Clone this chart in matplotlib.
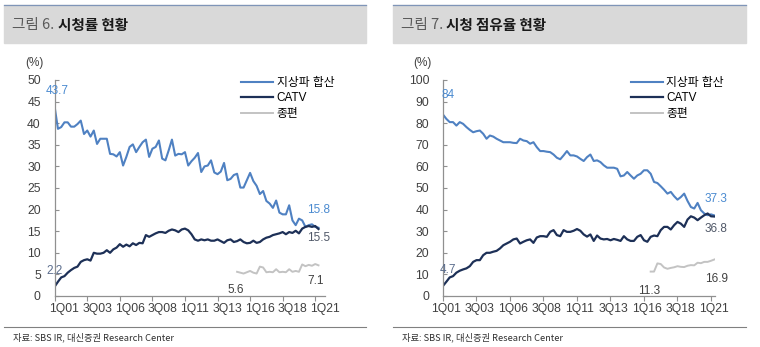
"""Broadcast ratings and viewing share by channel group, quarterly 1Q01-2Q21."""

import matplotlib.pyplot as plt
import numpy as np
from matplotlib.lines import Line2D
from matplotlib.patches import Rectangle

plt.rcParams["font.family"] = ["Liberation Sans", "Noto Sans CJK KR"]

# quarterly series, index 0 = 1Q01
tick_labels = ["1Q01", "3Q03", "1Q06", "3Q08", "1Q11", "3Q13", "1Q16", "3Q18", "1Q21"]
series_names = ["지상파 합산", "CATV", "종편"]

rating_terrestrial = [
    43.7, 38.7, 39.1, 40.2, 40.2, 39.2, 39.2, 39.8, 40.6, 37.5,
    38.3, 36.9, 38.3, 35.2, 36.4, 36.4, 36.4, 32.9, 32.8, 32.3,
    33.3, 30.2, 32.2, 34.5, 35.1, 33.3, 34.5, 35.6, 36.2, 32.2,
    34.1, 34.5, 36.0, 31.8, 31.4, 33.7, 36.2, 32.5, 32.9, 32.8,
    33.3, 30.2, 31.2, 32.0, 33.1, 28.7, 30.0, 30.2, 31.4, 28.6,
    28.2, 28.8, 30.8, 26.8, 27.1, 28.0, 28.3, 25.1, 25.1, 26.8,
    28.5, 26.6, 25.5, 23.6, 24.3, 22.0, 21.4, 20.4, 22.1, 19.3,
    18.9, 18.9, 21.0, 17.5, 16.4, 17.9, 17.5, 16.0, 16.4, 16.6,
    16.0, 15.8,
]
rating_catv = [
    2.2, 3.3, 4.3, 4.6, 5.4, 6.0, 6.5, 6.8, 7.9, 8.3,
    8.5, 8.2, 10.0, 9.8, 9.8, 10.0, 10.6, 10.0, 10.8, 11.2,
    12.0, 11.4, 11.9, 11.5, 12.2, 11.8, 12.3, 12.2, 14.1, 13.7,
    14.1, 14.5, 14.8, 14.8, 14.6, 15.1, 15.4, 15.2, 14.8, 15.4,
    15.6, 15.2, 14.3, 13.1, 12.8, 13.1, 12.9, 13.1, 12.8, 12.8,
    13.1, 12.7, 12.3, 12.9, 13.1, 12.5, 12.7, 13.1, 12.5, 12.2,
    12.3, 12.8, 12.3, 12.5, 13.1, 13.5, 13.7, 14.1, 14.3, 14.5,
    14.8, 14.3, 14.8, 14.6, 15.1, 14.5, 15.6, 16.0, 16.2, 16.0,
    16.2, 15.5,
]
rating_jongpyeon_start = 56
rating_jongpyeon = [
    5.6, 5.4, 5.2, 5.5, 5.8, 5.4, 5.2, 6.8, 6.6, 5.5,
    5.6, 5.5, 6.2, 5.5, 5.6, 5.5, 6.2, 5.6, 5.8, 5.6,
    7.3, 6.9, 7.2, 7.0, 7.4, 7.1,
]

share_terrestrial = [
    84.0, 82.0, 80.5, 80.5, 78.9, 80.5, 79.7, 78.2, 76.9, 75.8,
    76.3, 76.6, 75.1, 72.8, 74.3, 73.8, 72.8, 72.0, 71.2, 71.2,
    71.2, 70.9, 70.8, 72.8, 72.0, 71.7, 70.5, 71.2, 68.9, 67.1,
    67.1, 66.8, 66.6, 65.5, 64.0, 63.3, 65.1, 67.1, 65.1, 65.1,
    64.6, 63.5, 62.5, 64.3, 65.5, 62.5, 62.8, 62.0, 60.5, 59.4,
    59.4, 59.4, 58.9, 55.4, 55.8, 57.4, 55.8, 54.3, 55.8, 56.6,
    58.2, 58.2, 56.6, 52.8, 52.3, 50.8, 49.2, 47.4, 48.2, 46.2,
    44.6, 45.8, 47.4, 44.0, 41.2, 40.5, 43.1, 39.7, 38.2, 37.4,
    37.8, 37.3,
]
share_catv = [
    4.7, 6.6, 8.6, 9.2, 10.8, 11.7, 12.3, 12.8, 13.8, 15.8,
    16.6, 16.6, 18.9, 20.0, 20.0, 20.5, 20.9, 22.0, 23.5, 24.3,
    25.1, 26.2, 26.6, 24.3, 25.1, 25.8, 26.2, 24.6, 27.1, 27.7,
    27.7, 27.4, 29.7, 30.5, 28.2, 27.7, 30.5, 29.7, 29.7, 30.2,
    31.0, 30.2, 28.5, 27.5, 28.5, 25.5, 28.0, 26.6, 26.2, 26.4,
    25.8, 26.4, 26.0, 25.5, 27.7, 26.2, 25.5, 25.5, 27.4, 28.2,
    25.8, 25.1, 27.4, 28.0, 27.7, 30.5, 32.0, 32.0, 30.8, 32.8,
    34.3, 33.5, 32.0, 35.4, 36.9, 36.3, 35.1, 36.3, 37.4, 38.2,
    36.9, 36.8,
]
share_jongpyeon_start = 62
share_jongpyeon = [
    11.3, 11.3, 15.1, 14.8, 13.2, 12.6, 13.0, 13.3, 13.8, 13.5,
    13.4, 14.0, 14.3, 14.2, 15.4, 15.2, 15.8, 15.8, 16.3, 16.9,
]

BLUE = "#4f81c2"
NAVY = "#1d3057"
LIGHT = "#c3c3c3"
TEXT = "#404040"

W, H = 760, 347


def fx(px):
    return px / W


def fy(py):
    return 1 - py / H


def header(fig, x0, x1, number, title):
    fig.patches.append(Rectangle((fx(x0), fy(43)), fx(x1 - x0), (38 / H),
                                 transform=fig.transFigure, color="#d9d9d9", zorder=0))
    fig.add_artist(Line2D([fx(x0), fx(x1)], [fy(5), fy(5)], color="#7f95b8", lw=0.9))
    t = fig.text(fx(x0 + 8), fy(25), f"그림 {number}. ", family="Noto Sans CJK KR",
                 fontsize=10.5, color="#5a5a5a", va="center")
    fig.canvas.draw()
    bb = t.get_window_extent()
    fig.text(bb.x1 / fig.dpi / fig.get_figwidth(), fy(25), title, family="Noto Sans CJK KR",
             fontsize=10.5, fontweight="bold", color="#1a1a1a", va="center")
    fig.add_artist(Line2D([fx(x0), fx(x1)], [fy(327), fy(327)], color="#808080", lw=0.8))
    fig.text(fx(x0 + 9), fy(337), "자료: SBS IR, 대신증권 Research Center",
             family="Noto Sans CJK KR", fontsize=6.7, color="#303030", va="center")


def panel(ax, terr, catv, jong, jong_start, ymax, ystep, label_shift, notes):
    x = np.arange(len(terr))
    xj = np.arange(jong_start, jong_start + len(jong))
    l1, = ax.plot(x, terr, color=BLUE, lw=1.5, label=series_names[0])
    l2, = ax.plot(x, catv, color=NAVY, lw=1.6, label=series_names[1])
    l3, = ax.plot(xj, jong, color=LIGHT, lw=1.4, label=series_names[2])

    ax.set_xlim(0, len(terr) - 0.8)
    ax.set_ylim(0, ymax)
    ax.set_yticks(np.arange(0, ymax + 1, ystep))
    ax.tick_params(axis="y", direction="in", length=3, pad=10, labelsize=8.7,
                   colors="#909090", labelcolor=TEXT)
    ax.set_xticks(np.arange(0, len(terr), 10))
    ax.set_xticklabels([])
    ax.set_xticks(np.arange(len(tick_labels)) * 10 + label_shift, minor=True)
    ax.set_xticklabels(tick_labels, minor=True)
    ax.tick_params(axis="x", which="major", direction="out", length=3.5, colors="#909090")
    ax.tick_params(axis="x", which="minor", length=0, pad=5, labelsize=8.7, labelcolor=TEXT)
    for side in ("top", "right"):
        ax.spines[side].set_visible(False)
    for side in ("left", "bottom"):
        ax.spines[side].set_color("#909090")
        ax.spines[side].set_linewidth(0.9)
    ax.text(-0.075, 1.08, "(%)", transform=ax.transAxes, fontsize=8.5, color=TEXT,
            ha="center", va="center")

    data = {"terr": (x, terr), "catv": (x, catv), "jong": (xj, jong)}
    for key, idx, dx, dy, color in notes:
        xs, ys = data[key]
        xv = xs[idx]
        yv = ys[idx]
        ax.annotate(f"{yv:g}", (xv, yv), xytext=(dx, dy), textcoords="offset points",
                    ha="center", va="center", fontsize=8.5, color=color)

    ax.legend(handles=[l1, l2, l3], loc="upper left", bbox_to_anchor=(0.69, 1.015),
              frameon=False, fontsize=8.5, handlelength=2.7, handletextpad=0.3,
              labelspacing=0.3, borderpad=0, borderaxespad=0)


fig = plt.figure(figsize=(7.6, 3.47), dpi=100)

header(fig, 4, 366, 6, "시청률 현황")
header(fig, 393, 746, 7, "시청 점유율 현황")

ax_left = fig.add_axes([fx(54.7), 51 / H, 270.3 / W, 216 / H])
panel(ax_left, rating_terrestrial, rating_catv, rating_jongpyeon, rating_jongpyeon_start,
      50, 5, 3.0,
      [("terr", 0, 1.5, 12, "#4a8ad0"),
       ("terr", -1, 0, 12.5, "#4a8ad0"),
       ("catv", -1, 0, -6.5, "#505868"),
       ("catv", 0, 0, 11.5, "#5a6c8c"),
       ("jong", 0, -1, -13, "#404040"),
       ("jong", -1, -2, -11, "#404040")])

ax_right = fig.add_axes([fx(443), 51 / H, 272 / W, 216 / H])
panel(ax_right, share_terrestrial, share_catv, share_jongpyeon, share_jongpyeon_start,
      100, 10, 0.8,
      [("terr", 0, 3.8, 14, "#4a8ad0"),
       ("terr", -1, 1.5, 11.5, "#4a8ad0"),
       ("catv", -1, 1.5, -9, "#505868"),
       ("catv", 0, 3.8, 11.5, "#5a6c8c"),
       ("jong", 0, -1, -14, "#404040"),
       ("jong", -1, 1.5, -14, "#404040")])

fig.savefig("out.png", dpi=100)
